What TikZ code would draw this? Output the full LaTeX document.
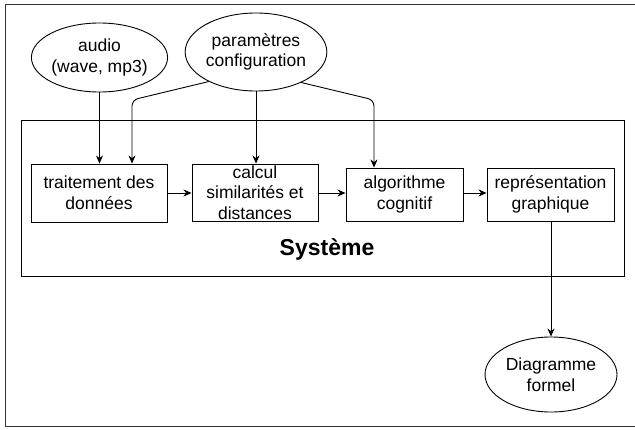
\documentclass[tikz,border=0pt]{standalone}
\usepackage{fontspec}
\setmainfont{Liberation Sans}
\usetikzlibrary{shapes.geometric,arrows.meta}
\begin{document}
\begin{tikzpicture}[x=1pt,y=-1pt,
  lbl/.style={font=\fontsize{17.5}{20.7}\selectfont, align=center},
  stepbox/.style={draw, line width=0.9pt, lbl, inner sep=0pt},
  blob/.style={draw, ellipse, line width=0.9pt, lbl, inner sep=0pt},
  conn/.style={line width=0.9pt, -{Stealth[length=8pt,width=7pt,inset=2.5pt]}},
  frameline/.style={line width=1pt, draw=black!80}
]
\useasboundingbox (0,0) rectangle (635,429);
% outer frame (right edge outside the picture)
\draw[frameline] (636,4) -- (5,4) -- (5,426) -- (636,426);
% system box
\node[draw, line width=0.9pt, minimum width=603pt, minimum height=156pt, inner sep=0pt] (sys) at (322.5,198) {};
\node[font=\fontsize{23}{27}\selectfont\bfseries, anchor=base] (systxt) at (327,255) {Système};
% inputs
\node[blob, minimum width=117pt, minimum height=69pt] (audio) at (99.5,57.5) {audio\\(wave, mp3)};
\node[blob, minimum width=128pt, minimum height=78pt] (param) at (256,52) {paramètres\\configuration};
% processing steps
\node[stepbox, minimum width=136pt, minimum height=58pt] (trait) at (99,193) {traitement des\\données};
\node[stepbox, minimum width=126pt, minimum height=57pt] (calc) at (255,192.5) {calcul\\similarités et\\distances};
\node[stepbox, minimum width=117pt, minimum height=53pt] (algo) at (404.5,194.5) {algorithme\\cognitif};
\node[stepbox, minimum width=127pt, minimum height=53pt] (repr) at (550.5,194.5) {représentation\\graphique};
% output
\node[blob, minimum width=132pt, minimum height=75pt] (diag) at (551,374.5) {Diagramme\\formel};
% bend points
\coordinate (bl) at (132,100);
\coordinate (br) at (374,100);
% connectors
\draw[conn] (audio.south) -- (audio.south |- trait.north);
\draw[conn, rounded corners=6pt] (param.212.5) -- (bl) -- (bl |- trait.north);
\draw[conn] (param.south) -- (param.south |- calc.north);
\draw[conn, rounded corners=6pt] (param.326.3) -- (br) -- (br |- algo.north);
\draw[conn] (trait.east |- 0,193) -- (calc.west |- 0,193);
\draw[conn] (calc.east |- 0,193) -- (algo.west |- 0,193);
\draw[conn] (algo.east |- 0,193) -- (repr.west |- 0,193);
\draw[conn] (repr.south -| diag.north) -- (diag.north);
\end{tikzpicture}
\end{document}
